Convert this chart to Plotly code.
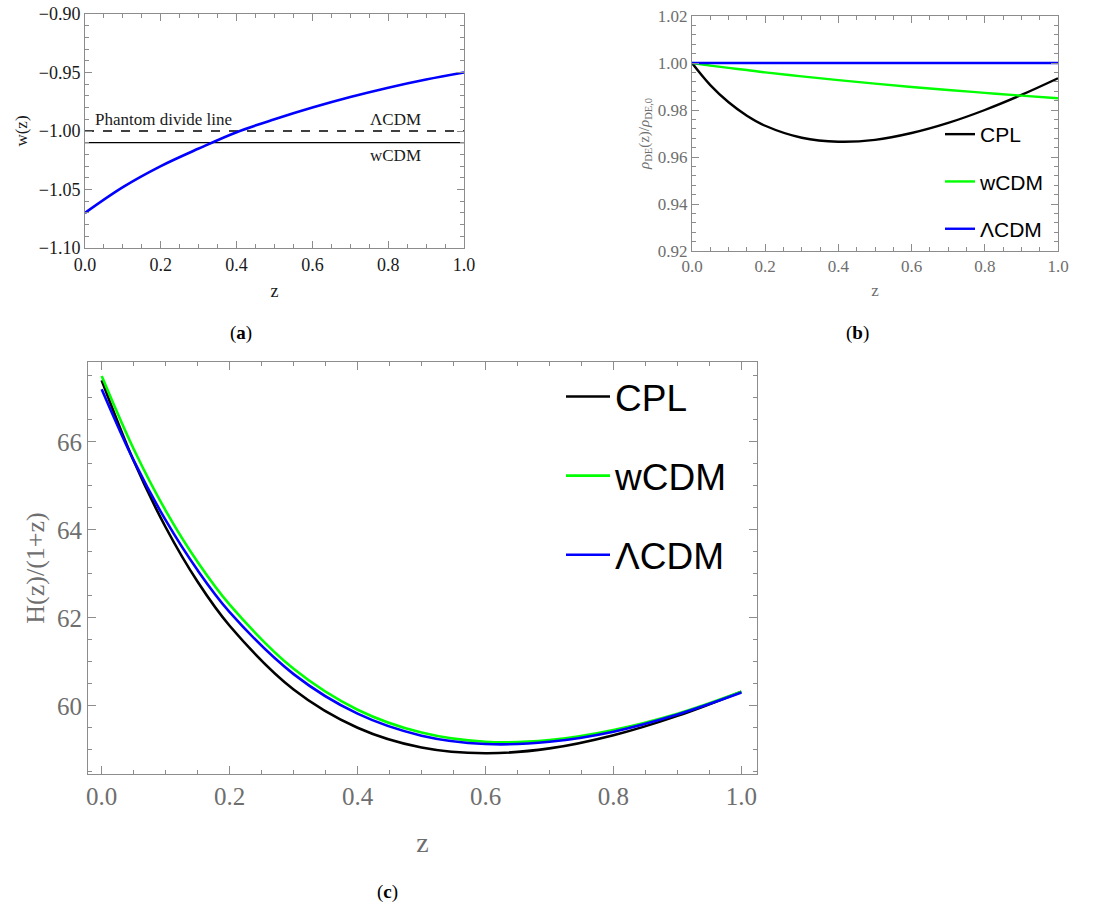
import plotly.graph_objects as go

# ---------------- data ----------------
# panel (a): equation of state w(z)
z_a = [0.0, 0.1, 0.2, 0.3, 0.4, 0.5, 0.6, 0.7, 0.8, 0.9, 1.0]
w_cpl = [-1.070, -1.048, -1.030, -1.015, -1.001, -0.990, -0.980, -0.971, -0.963, -0.956, -0.950]
z_lines = [0.0, 1.0]
w_lcdm = [-1.00, -1.00]
w_wcdm = [-1.01, -1.01]

# panel (b): rho_DE(z)/rho_DE,0
z_b = [0.0, 0.05, 0.1, 0.15, 0.2, 0.3, 0.4, 0.5, 0.6, 0.7, 0.8, 0.9, 1.0]
rho_cpl = [1.0, 0.9906, 0.9833, 0.9776, 0.9733, 0.9682, 0.9665, 0.9673, 0.9702, 0.9745, 0.9800, 0.9864, 0.9935]
rho_wcdm = [1.0, 0.9989, 0.9979, 0.9970, 0.9960, 0.9943, 0.9927, 0.9912, 0.9898, 0.9885, 0.9873, 0.9861, 0.9850]
rho_lcdm = [1.0] * len(z_b)

# panel (c): H(z)/(1+z)
z_c = [0.0, 0.05, 0.1, 0.15, 0.2, 0.3, 0.4, 0.5, 0.6, 0.7, 0.8, 0.9, 1.0]
H_cpl = [67.40, 65.57, 64.06, 62.82, 61.82, 60.37, 59.50, 59.05, 58.92, 59.03, 59.33, 59.77, 60.32]
H_wcdm = [67.50, 65.84, 64.44, 63.27, 62.30, 60.84, 59.91, 59.39, 59.18, 59.22, 59.45, 59.82, 60.32]
H_lcdm = [67.20, 65.58, 64.22, 63.08, 62.13, 60.72, 59.82, 59.32, 59.13, 59.18, 59.41, 59.80, 60.30]

# --------------- style ----------------
W, H = 1102, 905
BLACK, GREEN, BLUE = "#000000", "#00ff00", "#0000ff"
FRAME = "#8c8c8c"
GRAYTXT = "#6e6e6e"
DARKTXT = "#1a1a1a"
SERIF = "Liberation Serif, Times New Roman, serif"
SANS = "Liberation Sans, Arial, sans-serif"


def px_dom_x(a, b):
    return [a / W, b / W]


def px_dom_y(top, bottom):
    return [1 - bottom / H, 1 - top / H]


fig = go.Figure()

# panel (a)
fig.add_trace(go.Scatter(x=z_lines, y=w_lcdm, mode="lines", line=dict(color=BLACK, width=1.3, dash="dash"),
                         xaxis="x", yaxis="y", showlegend=False))
fig.add_trace(go.Scatter(x=z_lines, y=w_wcdm, mode="lines", line=dict(color=BLACK, width=1.3),
                         xaxis="x", yaxis="y", showlegend=False))
fig.add_trace(go.Scatter(x=z_a, y=w_cpl, mode="lines", line=dict(color=BLUE, width=2.6, shape="spline"),
                         xaxis="x", yaxis="y", showlegend=False))

# panel (b)
for name, ys, col in [("CPL", rho_cpl, BLACK), ("wCDM", rho_wcdm, GREEN), ("ΛCDM", rho_lcdm, BLUE)]:
    fig.add_trace(go.Scatter(x=z_b, y=ys, mode="lines", name=name, line=dict(color=col, width=2.4, shape="spline"),
                             xaxis="x2", yaxis="y2", legend="legend", legendgroup="b" + name))

# panel (c)
for name, ys, col in [("CPL", H_cpl, BLACK), ("wCDM", H_wcdm, GREEN), ("ΛCDM", H_lcdm, BLUE)]:
    fig.add_trace(go.Scatter(x=z_c, y=ys, mode="lines", name=name, line=dict(color=col, width=2.6, shape="spline"),
                             xaxis="x3", yaxis="y3", legend="legend2", legendgroup="c" + name))


def axis(dom, rng, dtick, mdtick, anchor, tfont, tcolor, title, tsize, tstand, fmt, ticklen=7, mlen=4):
    return dict(domain=dom, range=rng, anchor=anchor, dtick=dtick, tick0=0, tickformat=fmt,
                automargin=False,
                showline=True, linecolor=FRAME, linewidth=1, mirror="allticks",
                ticks="inside", ticklen=ticklen, tickcolor=FRAME, tickwidth=1,
                minor=dict(ticks="inside", ticklen=mlen, dtick=mdtick, tickcolor=FRAME, tickwidth=1, showgrid=False),
                showgrid=False, zeroline=False,
                tickfont=dict(family=SERIF, size=tfont, color=tcolor),
                title=dict(text=title, font=dict(family=SERIF, size=tsize, color=tcolor), standoff=tstand))


fig.update_layout(
    width=W, height=H, margin=dict(l=0, r=0, t=0, b=0, autoexpand=False),
    paper_bgcolor="white", plot_bgcolor="white",
    font=dict(family=SERIF),
    xaxis=axis(px_dom_x(85, 464), [0, 1], 0.2, 0.05, "y", 18, DARKTXT, "z", 18, 10, ".1f"),
    yaxis=axis(px_dom_y(14, 248), [-1.10, -0.90], 0.05, 0.01, "x", 18, DARKTXT, "w(z)", 17, 6, ".2f"),
    xaxis2=axis(px_dom_x(692, 1058), [0, 1], 0.2, 0.05, "y2", 17, GRAYTXT, "z", 17, 8, ".1f"),
    yaxis2=axis(px_dom_y(16, 251), [0.92, 1.02], 0.02, 0.004, "x2", 17, GRAYTXT,
                "<i>ρ</i><sub>DE</sub>(z)/<i>ρ</i><sub>DE,0</sub>", 15, 4, ".2f"),
    xaxis3=axis(px_dom_x(88, 757), [-0.0214, 1.0244], 0.2, 0.05, "y3", 25, GRAYTXT, "z", 28, 23, ".1f", ticklen=8),
    yaxis3=axis(px_dom_y(362, 774), [58.448, 67.818], 2, 0.5, "x3", 25, GRAYTXT, "H(z)/(1+z)", 26, 4, "d", ticklen=8),
    legend=dict(x=940 / W, y=1 - 114 / H, xanchor="left", yanchor="top", bgcolor="rgba(0,0,0,0)",
                font=dict(family=SANS, size=21, color="black"), tracegroupgap=17, itemwidth=30),
    legend2=dict(x=561 / W, y=1 - 366 / H, xanchor="left", yanchor="top", bgcolor="rgba(0,0,0,0)",
                 font=dict(family=SANS, size=37, color="black"), tracegroupgap=28, itemwidth=44),
    showlegend=True,
)

# panel (a) in-plot labels
fig.add_annotation(x=0.02, y=-0.990, xref="x", yref="y", text="Phantom divide line", showarrow=False,
                   xanchor="left", yanchor="middle", font=dict(family=SERIF, size=17, color=DARKTXT))
fig.add_annotation(x=0.818, y=-0.990, xref="x", yref="y", text="ΛCDM", showarrow=False,
                   xanchor="center", yanchor="middle", font=dict(family=SERIF, size=17, color=DARKTXT))
fig.add_annotation(x=0.818, y=-1.021, xref="x", yref="y", text="wCDM", showarrow=False,
                   xanchor="center", yanchor="middle", font=dict(family=SERIF, size=17, color=DARKTXT))

# panel letters
for lab, xp, yp in [("a", 241, 333), ("b", 857, 333), ("c", 387, 892)]:
    fig.add_annotation(x=xp / W, y=1 - yp / H, xref="paper", yref="paper", text="(<b>" + lab + "</b>)",
                       showarrow=False, xanchor="center", yanchor="middle",
                       font=dict(family=SERIF, size=19, color="black"))

fig.write_html("out.html")
